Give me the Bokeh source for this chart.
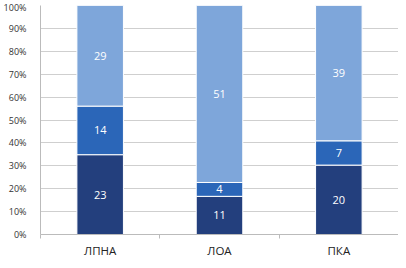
from bokeh.plotting import figure
from bokeh.models import FixedTicker, ColumnDataSource, PrintfTickFormatter, Range1d
from bokeh.core.properties import value
from bokeh.embed import file_html
from bokeh.resources import INLINE

categories = ["ЛПНА", "ЛОА", "ПКА"]
series_low = [23, 11, 20]
series_mid = [14, 4, 7]
series_high = [29, 51, 39]
y_ticks = [0, 10, 20, 30, 40, 50, 60, 70, 80, 90, 100]
colors = ["#233f7d", "#2b66b8", "#7ea6da"]

xs = [i + 0.5 for i in range(len(categories))]
totals = [a + b + c for a, b, c in zip(series_low, series_mid, series_high)]
p_low = [a / t * 100 for a, t in zip(series_low, totals)]
p_mid = [b / t * 100 for b, t in zip(series_mid, totals)]
p_high = [c / t * 100 for c, t in zip(series_high, totals)]

src = ColumnDataSource(dict(x=xs, low=p_low, mid=p_mid, high=p_high))

p = figure(width=398, height=260, output_backend="svg", toolbar_location=None,
           x_range=Range1d(0, 3), y_range=Range1d(0, 100),
           min_border_left=38, min_border_right=0, min_border_top=5, min_border_bottom=18)
p.outline_line_color = None

p.vbar_stack(["low", "mid", "high"], x="x", width=0.39, source=src,
             color=colors, line_color="white", line_width=1)

# labels
lab_x, lab_y, lab_t = [], [], []
for i in range(len(categories)):
    base = 0
    for pv, v in ((p_low[i], series_low[i]), (p_mid[i], series_mid[i]), (p_high[i], series_high[i])):
        lab_x.append(xs[i])
        lab_y.append(base + pv / 2)
        lab_t.append(str(v))
        base += pv
p.text(x=lab_x, y=lab_y, text=lab_t, text_color="white", text_align="center",
       text_baseline="middle", text_font_size="11px", text_font=value("Open Sans"))

p.yaxis.ticker = FixedTicker(ticks=y_ticks)
p.yaxis.formatter = PrintfTickFormatter(format="%d%%")
p.yaxis.major_label_text_font_size = "9px"
p.yaxis.major_label_text_font = "Open Sans"
p.yaxis.major_label_text_color = "#333333"
p.yaxis.major_label_standoff = 8
p.yaxis.axis_line_color = "#bbbbbb"
p.yaxis.major_tick_line_color = None
p.yaxis.minor_tick_line_color = None

p.xaxis.ticker = FixedTicker(ticks=xs, minor_ticks=[0, 1, 2, 3])
p.xaxis.major_label_overrides = {x: c for x, c in zip(xs, categories)}
p.xaxis.major_tick_line_color = None
p.xaxis.major_tick_out = 0
p.xaxis.major_label_standoff = 4
p.xaxis.minor_tick_line_color = "#bbbbbb"
p.xaxis.minor_tick_out = 4
p.xaxis.minor_tick_in = 0
p.xaxis.axis_line_color = "#bbbbbb"
p.xaxis.major_label_text_font_size = "11.5px"
p.xaxis.major_label_text_font = "Open Sans"
p.xaxis.major_label_text_color = "#222222"

p.xgrid.grid_line_color = None
p.ygrid.ticker = FixedTicker(ticks=y_ticks)
p.ygrid.grid_line_color = "#cfcfcf"

open("out.html", "w").write(file_html(p, INLINE))
